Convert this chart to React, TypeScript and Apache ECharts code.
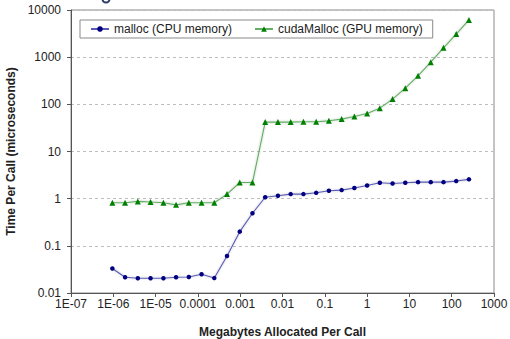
import React, { useEffect, useRef } from "react";
import * as echarts from "echarts";

const sizesMB = [
  0.00000095, 0.0000019, 0.0000038, 0.0000076, 0.0000153, 0.0000305, 0.000061,
  0.000122, 0.000244, 0.000488, 0.000977, 0.00195, 0.0039, 0.0078, 0.0156,
  0.03125, 0.0625, 0.125, 0.25, 0.5, 1, 2, 4, 8, 16, 32, 64, 128, 256,
];

const mallocTimes = [
  0.033, 0.0215, 0.0205, 0.0205, 0.0205, 0.0215, 0.0218, 0.0249, 0.0207, 0.061,
  0.2, 0.49, 1.07, 1.15, 1.25, 1.25, 1.33, 1.47, 1.52, 1.68, 1.9, 2.17, 2.1,
  2.17, 2.24, 2.24, 2.24, 2.36, 2.57,
];

const cudaMallocTimes = [
  0.82, 0.82, 0.875, 0.85, 0.82, 0.74, 0.82, 0.82, 0.82, 1.25, 2.2, 2.2, 42,
  42, 42, 42.6, 42.6, 44.7, 48.6, 55, 64, 83, 129, 220, 402, 783, 1575, 3090,
  6170,
];

const xTickLabels: Record<string, string> = {
  "-7": "1E-07",
  "-6": "1E-06",
  "-5": "1E-05",
  "-4": "0.0001",
  "-3": "0.001",
  "-2": "0.01",
  "-1": "0.1",
  "0": "1",
  "1": "10",
  "2": "100",
  "3": "1000",
};

const yTickLabels: Record<string, string> = {
  "-2": "0.01",
  "-1": "0.1",
  "0": "1",
  "1": "10",
  "2": "100",
  "3": "1000",
  "4": "10000",
};

const seriesNames = ["malloc (CPU memory)", "cudaMalloc (GPU memory)"];

export default function App() {
  const ref = useRef<HTMLDivElement>(null);
  useEffect(() => {
    if (!ref.current) return;
    const chart = echarts.init(ref.current, undefined, { renderer: "svg" });
    const font = "'Liberation Sans', Arial, sans-serif";
    const expKey = (v: number) => String(Math.round(Math.log10(v)));
    chart.setOption({
      animation: false,
      textStyle: { fontFamily: font },
      grid: {
        left: 71,
        right: 16,
        top: 10,
        bottom: 46,
        containLabel: false,
        outerBoundsMode: "none",
        show: true,
        borderColor: "#8a8a8a",
        borderWidth: 1,
      },
      legend: {
        left: 80,
        top: 20,
        orient: "horizontal",
        borderColor: "#8a8a8a",
        borderWidth: 1,
        padding: [3, 10, 3, 10],
        itemGap: 22,
        itemWidth: 18,
        itemHeight: 7,
        textStyle: { fontSize: 12, color: "#222", fontFamily: font },
        data: seriesNames,
      },
      xAxis: {
        type: "log",
        logBase: 10,
        min: 1e-7,
        max: 1000,
        interval: 1,
        splitNumber: 10,
        name: "Megabytes Allocated Per Call",
        nameLocation: "middle",
        nameGap: 33,
        nameTextStyle: { fontSize: 12, fontWeight: "bold", color: "#222", fontFamily: font },
        axisLine: { lineStyle: { color: "#555", width: 1 } },
        axisTick: { show: true, inside: false, length: 4, lineStyle: { color: "#555" } },
        axisLabel: {
          fontSize: 12,
          color: "#222",
          margin: 5,
          fontFamily: font,
          formatter: (v: number) => xTickLabels[expKey(v)] ?? "",
        },
        splitLine: { show: false },
        minorTick: { show: false },
      },
      yAxis: {
        type: "log",
        logBase: 10,
        min: 0.01,
        max: 10000,
        interval: 1,
        splitNumber: 6,
        name: "Time Per Call (microseconds)",
        nameLocation: "middle",
        nameGap: 54,
        nameRotate: 90,
        nameTextStyle: { fontSize: 12, fontWeight: "bold", color: "#222", fontFamily: font },
        axisLine: { show: true, lineStyle: { color: "#555", width: 1 } },
        axisTick: { show: true, inside: false, length: 4, lineStyle: { color: "#555" } },
        axisLabel: {
          fontSize: 12,
          color: "#222",
          margin: 10,
          fontFamily: font,
          formatter: (v: number) => yTickLabels[expKey(v)] ?? "",
        },
        splitLine: { show: true, lineStyle: { color: "#bdbdbd", type: [3, 3], width: 1 } },
      },
      graphic: [
        {
          type: "arc",
          shape: { cx: 106, cy: -1, r: 3.5, startAngle: 0, endAngle: Math.PI },
          style: { stroke: "#2b3b6b", lineWidth: 2, fill: "none" },
          silent: true,
        },
      ],
      series: [
        {
          name: seriesNames[0],
          type: "line",
          data: sizesMB.map((x, i) => [x, mallocTimes[i]]),
          symbol: "circle",
          symbolSize: 4.5,
          itemStyle: { color: "#000080" },
          lineStyle: {
            color: "#5b5bb5",
            width: 1.1,
            shadowColor: "rgba(0,0,0,0.25)",
            shadowBlur: 2,
          },
        },
        {
          name: seriesNames[1],
          type: "line",
          data: sizesMB.map((x, i) => [x, cudaMallocTimes[i]]),
          symbol: "triangle",
          symbolSize: 6,
          itemStyle: { color: "#008000" },
          lineStyle: {
            color: "#62ae62",
            width: 1.1,
            shadowColor: "rgba(0,0,0,0.25)",
            shadowBlur: 2,
          },
        },
      ],
    });
    return () => chart.dispose();
  }, []);
  return <div ref={ref} style={{ width: 510, height: 339, position: "absolute", left: 0, top: 0 }} />;
}
